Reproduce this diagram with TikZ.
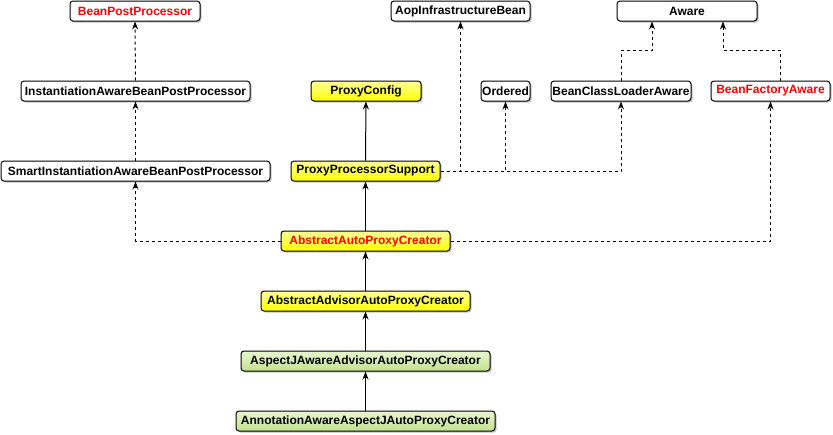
\documentclass[tikz,border=0pt]{standalone}
\usepackage{fontspec}
\setsansfont{Liberation Sans}
\usepackage{xcolor}
\usepackage{tikz}
\usetikzlibrary{arrows.meta, shadows, calc}
\definecolor{hotred}{RGB}{255,0,0}
\definecolor{yelltop}{RGB}{255,255,150}
\definecolor{yellbot}{RGB}{255,255,0}
\definecolor{greentop}{RGB}{232,246,208}
\definecolor{greenbot}{RGB}{192,226,140}
\begin{document}
\begin{tikzpicture}[x=1pt, y=-1pt,
  cls/.style={draw, line width=1pt, rounded corners=3pt, fill=white, minimum height=20pt, inner sep=1pt,
    font=\sffamily\bfseries\fontsize{12}{14}\selectfont,
    drop shadow={shadow xshift=1.5pt, shadow yshift=-1.5pt, fill=black!40, opacity=0.6}},
  yel/.style={cls, top color=yelltop, bottom color=yellbot},
  grn/.style={cls, top color=greentop, bottom color=greenbot},
  hot/.style={text=hotred},
  impl/.style={line width=1pt, dash pattern=on 3pt off 3pt, -{Stealth[length=8pt, width=6pt]}},
  ext/.style={line width=1pt, -{Stealth[length=8pt, width=6pt]}}]
\useasboundingbox (0,0) rectangle (833,434);
% left column
\node[cls, hot, minimum width=130pt] (bpp) at (135,11) {BeanPostProcessor};
\node[cls, minimum width=229pt] (iabpp) at (135.5,91) {InstantiationAwareBeanPostProcessor};
\node[cls, minimum width=269pt] (siabpp) at (135.5,171) {SmartInstantiationAwareBeanPostProcessor};
% middle column
\node[yel, minimum width=110pt] (pcfg) at (366,91) {ProxyConfig};
\node[yel, minimum width=149pt] (pps) at (365.5,171) {ProxyProcessorSupport};
\node[yel, hot, minimum width=169pt] (aapc) at (365.5,241) {AbstractAutoProxyCreator};
\node[yel, minimum width=209pt] (aadvapc) at (365.5,301) {AbstractAdvisorAutoProxyCreator};
\node[grn, minimum width=249pt] (ajaapc) at (365.5,361) {AspectJAwareAdvisorAutoProxyCreator};
\node[grn, minimum width=259pt] (aaajapc) at (365.5,421) {AnnotationAwareAspectJAutoProxyCreator};
% right side
\node[cls, minimum width=139pt] (aib) at (460.5,11) {AopInfrastructureBean};
\node[cls, minimum width=49pt] (ord) at (505.5,91) {Ordered};
\node[cls, minimum width=140pt] (bcla) at (621,91) {BeanClassLoaderAware};
\node[cls, minimum width=140pt] (aware) at (687,11) {Aware};
\node[cls, hot, minimum width=119pt] (bfa) at (770.5,91) {BeanFactoryAware};
\coordinate (k1) at (652,50);
\coordinate (k2) at (723,50);

\draw[impl] (iabpp) -- (bpp);
\draw[impl] (siabpp) -- (iabpp);
\draw[ext] (pps) -- (pcfg);
\draw[ext] (aapc) -- (pps);
\draw[ext] (aadvapc) -- (aapc);
\draw[ext] (ajaapc) -- (aadvapc);
\draw[ext] (aaajapc) -- (ajaapc);
\draw[impl] (pps.east) -| (aib.south);
\draw[impl] (pps.east) -| (ord.south);
\draw[impl] (pps.east) -| (bcla.south);
\draw[impl] (bcla.north) |- (k1) -- (k1 |- aware.south);
\draw[impl] ([xshift=10pt]bfa.north) |- (k2) -- (k2 |- aware.south);
\draw[impl] (aapc.west) -| (siabpp.south);
\draw[impl] (aapc.east) -| (bfa.south);
\end{tikzpicture}
\end{document}
